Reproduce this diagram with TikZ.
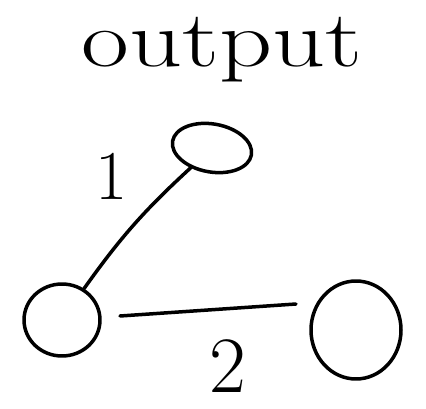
\documentclass[tikz,border=0pt]{standalone}
\usetikzlibrary{shapes.geometric}
\begin{document}
\begin{tikzpicture}[x=1pt,y=-1pt,
  stroke/.style={line width=3.5pt,line cap=round,line join=round},
  hand/.style={ellipse,draw,stroke,inner sep=0pt}]
\useasboundingbox (0,0) rectangle (426,409);
\node[font=\fontsize{80}{80}\selectfont,xscale=1.3,inner sep=0pt] (title) at (222,50) {output};
\node[hand,minimum width=80pt,minimum height=48pt,rotate=-10] (top) at (212,148) {};
\node[hand,minimum width=76pt,minimum height=72pt] (left) at (62,320) {};
\node[hand,minimum width=90pt,minimum height=98pt] (right) at (356,330) {};
\coordinate (h1) at (120,316);
\coordinate (h2) at (296,304);
\draw[stroke] (left) to[bend left=6] (top);
\draw[stroke] (h1) -- (h2);
\node[font=\fontsize{70}{70}\selectfont] (one) at (112,176) {1};
\node[font=\fontsize{80}{80}\selectfont] (two) at (228,366) {2};
\end{tikzpicture}
\end{document}
